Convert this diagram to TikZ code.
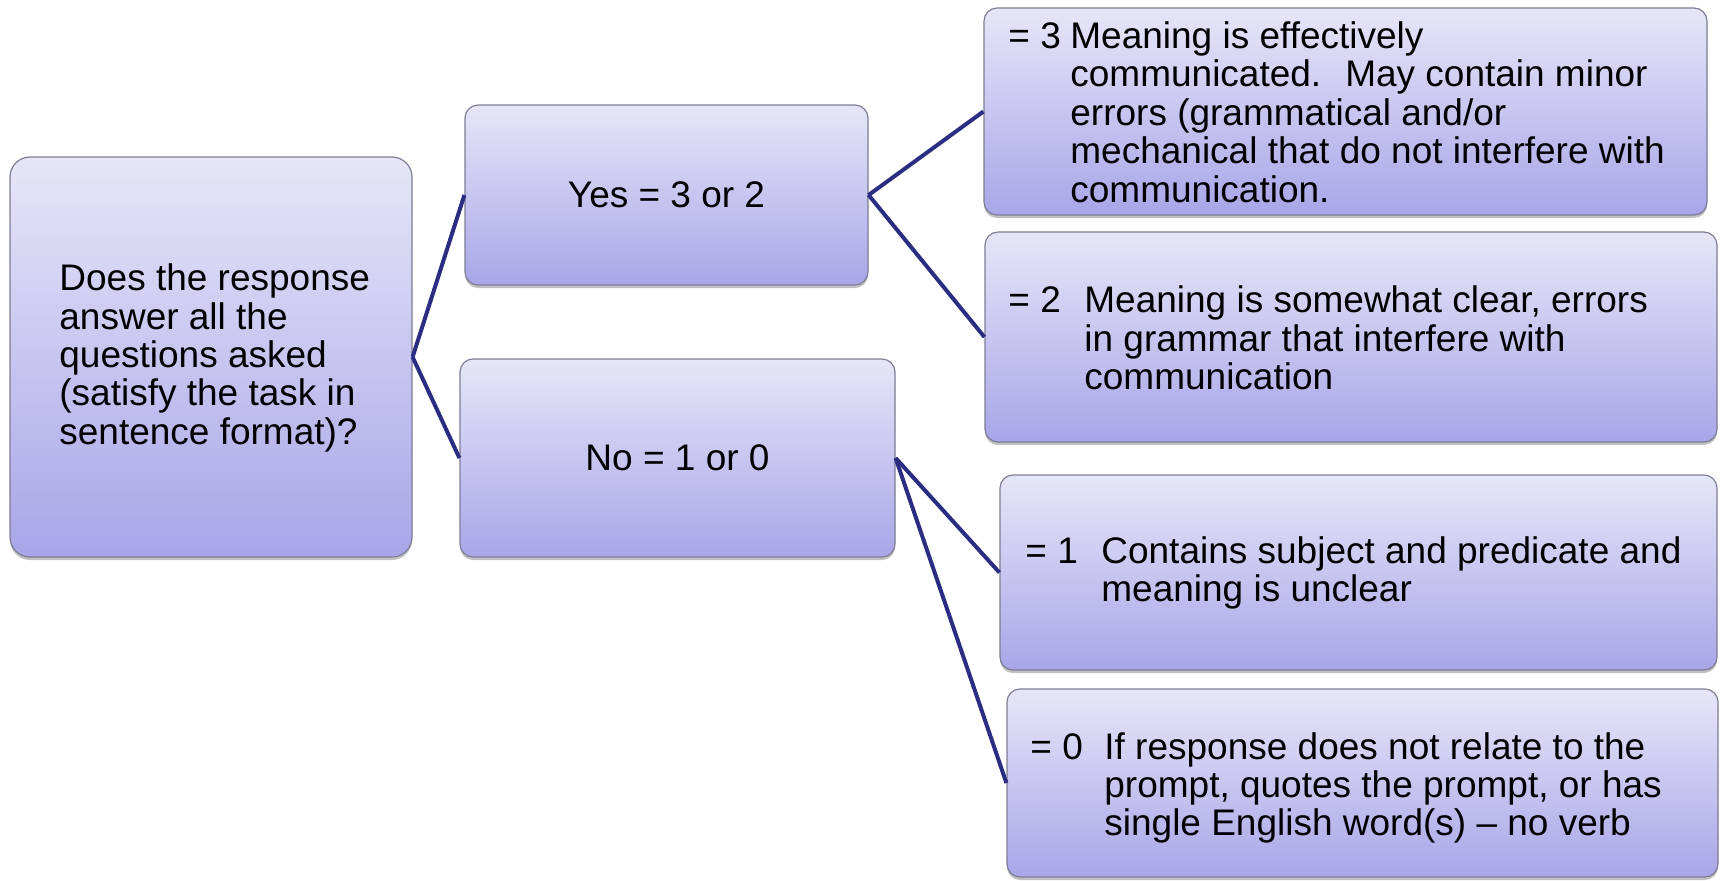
\documentclass[tikz,border=0pt]{standalone}
\usepackage{fontspec}
\setmainfont{Liberation Sans}
\usetikzlibrary{shadows}
\newdimen\pxu \pxu=0.5pt
\definecolor{boxtop}{RGB}{230,230,248}
\definecolor{boxbot}{RGB}{168,166,232}
\definecolor{boxedge}{RGB}{125,125,150}
\definecolor{linkc}{RGB}{43,45,130}
\tikzset{
  box/.style={draw=boxedge, line width=0.6pt, rounded corners=13\pxu,
    top color=boxtop, bottom color=boxbot, inner sep=0pt,
    drop shadow={shadow xshift=0pt, shadow yshift=-3\pxu, opacity=0.35, fill=black!70}},
  txt/.style={font=\fontsize{18.5pt}{19.2pt}\selectfont, align=left, inner sep=0pt, text=black},
  link/.style={draw=linkc, line width=2pt}
}
\begin{document}
\begin{tikzpicture}[x=0.5pt, y=-0.5pt]
\useasboundingbox (0,0) rectangle (1723,880);
% boxes
\node[box, rounded corners=20\pxu, minimum width=402\pxu, minimum height=400\pxu] (root) at (211,357) {};
\node[box, txt, align=center, minimum width=403\pxu, minimum height=180\pxu] (yes) at (666.5,195) {Yes = 3 or 2};
\node[box, txt, align=center, minimum width=435\pxu, minimum height=198\pxu] (no) at (677.5,458) {No = 1 or 0};
\node[box, minimum width=723\pxu, minimum height=207\pxu] (b3) at (1345.5,111.5) {};
\node[box, minimum width=732\pxu, minimum height=210\pxu] (b2) at (1351,337) {};
\node[box, minimum width=717\pxu, minimum height=195\pxu] (b1) at (1358.5,572.5) {};
\node[box, minimum width=711\pxu, minimum height=188\pxu] (b0) at (1362.5,783) {};
% texts
\node[txt, anchor=west] (roottxt) at (59,358) {Does the response\\answer all the\\questions asked\\(satisfy the task in\\sentence format)?};
\node[txt, anchor=west] (b3txt) at (1008,112) {\makebox[62\pxu][l]{= 3}Meaning is effectively\\\hspace*{62\pxu}communicated.~ May contain minor\\\hspace*{62\pxu}errors (grammatical and/or\\\hspace*{62\pxu}mechanical that do not interfere with\\\hspace*{62\pxu}communication.};
\node[txt, anchor=west] (b2txt) at (1008,338) {\makebox[76\pxu][l]{= 2}Meaning is somewhat clear, errors\\\hspace*{76\pxu}in grammar that interfere with\\\hspace*{76\pxu}communication};
\node[txt, anchor=west] (b1txt) at (1025,573) {\makebox[76\pxu][l]{= 1}Contains subject and predicate and\\\hspace*{76\pxu}meaning is unclear};
\node[txt, anchor=west] (b0txt) at (1030,788) {\makebox[74\pxu][l]{= 0}If response does not relate to the\\\hspace*{74\pxu}prompt, quotes the prompt, or has\\\hspace*{74\pxu}single English word(s) -- no verb};
% connectors
\draw[link] (root.east) -- (yes.west);
\draw[link] (root.east) -- (no.west);
\draw[link] (yes.east) -- (b3.west);
\draw[link] (yes.east) -- (b2.west);
\draw[link] (no.east) -- (b1.west);
\draw[link] (no.east) -- (b0.west);
\end{tikzpicture}
\end{document}
